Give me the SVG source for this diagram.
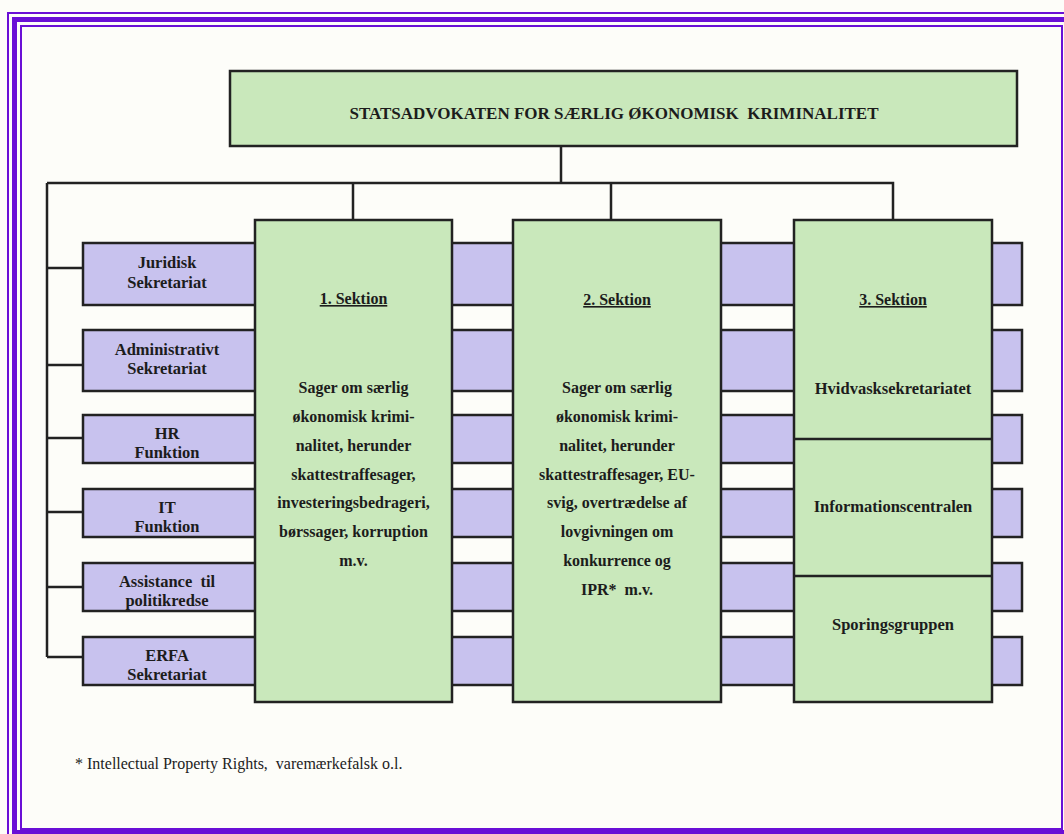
<svg xmlns="http://www.w3.org/2000/svg" width="1064" height="834" viewBox="0 0 1064 834">
<style>
.frame{fill:none;stroke:#6a0fd6}
.green{fill:#c9e8bb;stroke:#222;stroke-width:2.5}
.purple{fill:#c8c2ee;stroke:#222;stroke-width:2.5}
.conn{fill:none;stroke:#222;stroke-width:2.5}
.t{font-family:"Liberation Serif","Times New Roman",serif;font-weight:bold;fill:#1c1c1c;text-anchor:middle}
.small{font-size:16.5px}
.body{font-size:16px}
.title{font-size:17px}
.u{text-decoration:underline}
.foot{font-family:"Liberation Serif","Times New Roman",serif;font-size:16px;fill:#222}
</style>
<rect x="0" y="0" width="1064" height="834" fill="#fdfdf9"/>
<g id="frame">
<rect class="frame" x="8" y="13" width="1080" height="840" stroke-width="2"/>
<rect class="frame" x="14.5" y="19.5" width="1060" height="813" stroke-width="5"/>
<rect class="frame" x="21" y="26" width="1041" height="803" stroke-width="2"/>
</g>
<g id="bars">
<rect class="purple" x="83" y="243" width="939" height="62"/>
<rect class="purple" x="83" y="330" width="939" height="61"/>
<rect class="purple" x="83" y="415" width="939" height="48"/>
<rect class="purple" x="83" y="489" width="939" height="48"/>
<rect class="purple" x="83" y="563" width="939" height="48"/>
<rect class="purple" x="83" y="637" width="939" height="48"/>
</g>
<g id="connectors">
<path class="conn" d="M561,146 V183 M47,183 H893 V220 M353,183 V220 M611,183 V220 M47,183 V657"/>
<path class="conn" d="M47,268 H83 M47,365 H83 M47,438 H83 M47,512 H83 M47,587 H83 M47,657 H83"/>
</g>
<g id="top">
<rect class="green" x="230" y="71" width="787" height="75"/>
<text class="t title" x="614" y="119" xml:space="preserve">STATSADVOKATEN FOR SÆRLIG ØKONOMISK  KRIMINALITET</text>
</g>
<g id="juridisk"><text class="t small" x="167" y="268">Juridisk</text><text class="t small" x="167" y="288">Sekretariat</text></g>
<g id="administrativt"><text class="t small" x="167" y="355">Administrativt</text><text class="t small" x="167" y="374">Sekretariat</text></g>
<g id="hr"><text class="t small" x="167" y="439">HR</text><text class="t small" x="167" y="458">Funktion</text></g>
<g id="it"><text class="t small" x="167" y="513">IT</text><text class="t small" x="167" y="532">Funktion</text></g>
<g id="assistance"><text class="t small" x="167" y="587" xml:space="preserve">Assistance  til</text><text class="t small" x="167" y="606">politikredse</text></g>
<g id="erfa"><text class="t small" x="167" y="661">ERFA</text><text class="t small" x="167" y="680">Sekretariat</text></g>
<g id="sektion1">
<rect class="green" x="255" y="220" width="197" height="482"/>
<text class="t body u" x="353.5" y="304">1. Sektion</text>
<text class="t body" x="353.5" y="393">Sager om særlig</text>
<text class="t body" x="353.5" y="422">økonomisk krimi-</text>
<text class="t body" x="353.5" y="451">nalitet, herunder</text>
<text class="t body" x="353.5" y="480">skattestraffesager,</text>
<text class="t body" x="353.5" y="508">investeringsbedrageri,</text>
<text class="t body" x="353.5" y="537">børssager, korruption</text>
<text class="t body" x="353.5" y="566">m.v.</text>
</g>
<g id="sektion2">
<rect class="green" x="513" y="220" width="208" height="482"/>
<text class="t body u" x="617" y="305">2. Sektion</text>
<text class="t body" x="617" y="393">Sager om særlig</text>
<text class="t body" x="617" y="422">økonomisk krimi-</text>
<text class="t body" x="617" y="451">nalitet, herunder</text>
<text class="t body" x="617" y="480">skattestraffesager, EU-</text>
<text class="t body" x="617" y="508">svig, overtrædelse af</text>
<text class="t body" x="617" y="537">lovgivningen om</text>
<text class="t body" x="617" y="566">konkurrence og</text>
<text class="t body" x="617" y="595" xml:space="preserve">IPR*  m.v.</text>
</g>
<g id="sektion3">
<rect class="green" x="794" y="220" width="198" height="482"/>
<line class="conn" x1="794" y1="439" x2="992" y2="439"/>
<line class="conn" x1="794" y1="576" x2="992" y2="576"/>
<text class="t body u" x="893" y="305">3. Sektion</text>
<text class="t small" x="893" y="394">Hvidvasksekretariatet</text>
<text class="t small" x="893" y="512">Informationscentralen</text>
<text class="t small" x="893" y="630">Sporingsgruppen</text>
</g>
<g id="footnote">
<text class="foot" x="75" y="769" xml:space="preserve">* Intellectual Property Rights,  varemærkefalsk o.l.</text>
</g>
</svg>
